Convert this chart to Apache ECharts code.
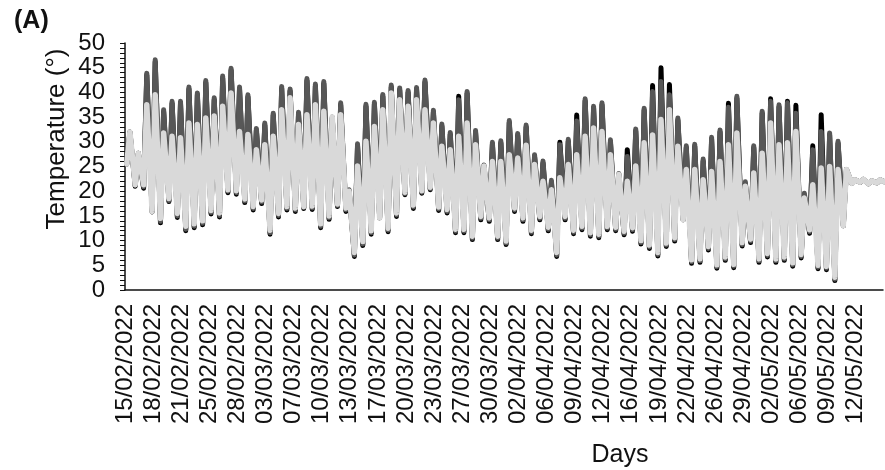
<!DOCTYPE html>
<html>
<head>
<meta charset="utf-8">
<script src="https://cdn.jsdelivr.net/npm/echarts@6/dist/echarts.min.js"></script>
<style>
html, body { margin: 0; padding: 0; background: #fff; }
#main { width: 885px; height: 470px; }
</style>
</head>
<body>
<div id="main"></div>
<script>
// hourly logger, one low (early morning) and one high (afternoon) per day
var startDate = Date.UTC(2022, 1, 15);
var lowHour = 5, highHour = 14;

var blackMin = [25.5,21.0,20.6,15.8,13.6,17.9,14.7,12.0,12.6,13.2, 15.4,14.8,19.7,19.4,17.7,16.2,17.5,11.3,14.8,16.2,
    15.9,16.5,16.3,12.6,14.3,16.9,15.9,6.8,9.0,11.3, 14.6,11.8,14.9,19.3,16.5,19.6,20.3,16.1,15.6,11.6,
    11.6,10.2,14.2,13.9,10.2,9.2,15.9,13.9,11.4,14.2, 12.0,6.8,14.2,11.4,12.2,10.9,10.6,12.2,12.0,11.2,
    11.9,9.3,8.4,6.9,8.8,9.9,14.2,5.4,5.6,8.1, 4.4,6.0,4.5,8.9,9.6,5.6,6.7,5.6,6.0,4.8,
    6.5,11.5,4.3,4.1,1.9,13.0,21.6,21.8,21.5,21.7, 21.8];
var darkMin = [25.5,21.2,20.9,15.9,13.9,18.1,15.0,12.3,12.9,13.5, 15.7,15.1,20.0,19.7,18.0,16.5,17.8,11.6,15.1,16.5,
    16.2,16.7,16.6,12.9,14.6,17.1,16.2,7.1,9.3,11.6, 14.6,12.1,15.2,19.5,16.8,19.8,20.5,16.4,15.9,11.9,
    11.9,10.5,14.5,14.2,10.5,9.5,16.2,14.2,11.7,14.5, 12.3,7.1,14.5,11.7,12.5,11.2,10.9,12.5,12.3,11.5,
    12.2,9.6,8.7,7.2,9.1,10.2,14.2,5.7,5.9,8.4, 4.7,6.3,4.8,9.2,9.9,5.9,7.0,5.9,6.3,5.1,
    6.8,11.8,4.6,4.4,2.2,13.0,21.6,21.8,21.5,21.7, 21.8];
var lightMin = [25.5,21.3,21.3,15.9,14.5,18.5,15.5,12.9,13.4,14.0, 16.1,15.6,20.3,20.1,18.4,16.9,18.2,12.1,15.5,16.9,
    16.6,16.9,17.0,13.4,15.0,17.4,16.6,7.6,9.8,12.0, 14.6,12.5,15.6,19.8,17.2,20.1,20.8,16.8,16.3,12.3,
    12.3,10.9,14.9,14.6,10.9,9.9,16.6,14.6,12.1,14.9, 12.7,7.6,14.9,12.1,12.9,11.6,11.3,12.9,12.7,11.9,
    12.6,10.0,9.1,7.6,9.5,10.6,14.2,6.1,6.3,8.8, 5.1,6.7,5.2,9.6,10.3,6.3,7.4,6.3,6.7,5.5,
    7.2,12.2,5.0,4.8,2.6,13.0,21.6,21.8,21.5,21.7, 21.8];

var blackMax = [32.0,27.7,43.5,46.2,36.1,37.8,37.8,40.7,39.5,42.0, 38.5,42.9,44.5,40.7,39.1,32.3,33.4,35.4,40.8,40.3,
    35.6,42.4,41.3,41.8,34.8,37.5,20.1,29.2,37.2,37.6, 39.2,41.1,40.5,40.0,40.6,42.1,36.0,33.2,31.5,39.2,
    39.8,31.9,25.1,29.5,29.8,33.9,31.3,33.0,27.0,25.7, 21.8,29.9,30.1,35.4,38.3,36.8,37.5,30.0,23.4,28.4,
    32.2,36.4,41.4,45.0,41.6,34.4,28.8,29.1,26.1,30.5, 32.0,37.8,38.8,21.5,28.8,35.8,38.7,37.1,38.2,37.4,
    19.2,29.2,35.5,31.4,29.7,24.4,22.3,22.4,22.1,22.3, 22.2];
var darkMax = [32.0,27.7,43.9,46.6,36.5,38.2,38.2,41.1,39.9,42.4, 38.9,43.3,44.9,41.1,39.5,32.7,33.8,35.8,41.2,40.7,
    36.0,42.8,41.7,42.2,35.0,37.9,20.3,29.6,37.6,38.0, 39.6,41.5,40.9,40.4,41.0,42.5,36.4,33.6,31.9,38.5,
    40.2,32.3,25.3,29.9,30.2,34.3,31.7,33.4,27.4,26.1, 22.2,29.4,30.5,34.2,38.7,37.2,37.9,30.4,23.6,27.0,
    32.6,36.8,40.2,42.2,39.5,34.8,29.2,29.5,26.5,30.9, 32.4,37.0,39.2,21.9,29.2,36.2,38.2,37.5,37.9,35.8,
    19.6,28.4,32.1,31.8,30.1,24.4,22.3,22.4,22.1,22.3, 22.2];
var lightMax = [32.0,27.7,37.5,39.5,31.8,31.1,30.8,33.8,33.5,34.8, 35.2,37.2,39.9,32.1,31.5,28.4,29.4,31.1,36.5,38.9,
    33.5,35.5,37.5,36.2,35.0,35.5,20.0,25.1,30.1,33.1, 36.5,39.9,38.5,37.2,38.5,36.5,33.8,29.1,28.4,31.1,
    33.8,29.4,25.1,26.0,26.0,27.4,26.7,29.3,25.4,22.0, 20.3,22.7,25.4,27.4,31.1,32.8,32.1,27.4,23.4,22.0,
    25.1,29.8,31.4,34.5,36.5,29.1,24.4,24.4,22.3,24.0, 26.0,29.4,31.8,21.0,23.7,27.7,33.8,29.4,29.8,32.1,
    18.6,21.3,24.7,25.0,24.4,24.4,22.3,22.4,22.1,22.3, 22.2];

function addzero(v) {
    if (v < 10) return '0' + v;
    return v.toString();
}

function hourLabel(h) {
    var d = new Date(startDate + h * 3600 * 1000);
    return addzero(d.getUTCDate()) + '/' + addzero(d.getUTCMonth() + 1) + '/' + d.getUTCFullYear();
}

function dayPoints(mins, maxs) {
    var pts = [];
    for (var i = 0; i < mins.length; i++) {
        pts.push([i * 24 + lowHour, mins[i]]);
        pts.push([i * 24 + highHour, maxs[i]]);
    }
    return pts;
}

function lineSeries(data, color, width) {
    return {
        type: 'line',
        data: data,
        showSymbol: false,
        symbol: 'none',
        clip: true,
        lineStyle: { color: color, width: width, cap: 'round', join: 'round' }
    };
}

var font = '"Liberation Sans", Arial, sans-serif';
var myChart = echarts.init(document.getElementById('main'), null, { renderer: 'canvas' });

option = {
    animation: false,
    backgroundColor: '#fff',
    title: {
        text: '(A)',
        left: 9,
        top: 4,
        textStyle: { fontFamily: font, fontWeight: 'bold', fontSize: 25, color: '#111' }
    },
    grid: { left: 125, right: 2, top: 43, bottom: 180, containLabel: false },
    xAxis: {
        type: 'value',
        min: 0,
        max: 2158,
        interval: 80,
        axisLine: { lineStyle: { color: '#111', width: 1.5 } },
        axisTick: { show: false },
        splitLine: { show: false },
        axisLabel: {
            rotate: 90,
            margin: 14,
            showMaxLabel: false,
            fontFamily: font,
            fontSize: 24,
            color: '#111',
            formatter: hourLabel
        }
    },
    yAxis: {
        type: 'value',
        min: 0,
        max: 50,
        interval: 5,
        axisLine: { show: true, lineStyle: { color: '#111', width: 1.5 } },
        axisTick: { show: true, length: 5, lineStyle: { color: '#111' } },
        minorTick: { show: true, splitNumber: 5, length: 5, lineStyle: { color: '#111' } },
        splitLine: { show: false },
        axisLabel: { margin: 20, fontFamily: font, fontSize: 24, color: '#111' }
    },
    graphic: [
        {
            type: 'text',
            x: 57,
            y: 139,
            rotation: Math.PI / 2,
            style: { text: 'Temperature (°)', font: '26px ' + font, fill: '#111', align: 'center', verticalAlign: 'middle' }
        },
        {
            type: 'text',
            x: 620,
            y: 455,
            style: { text: 'Days', font: '25px ' + font, fill: '#111', align: 'center', verticalAlign: 'middle' }
        }
    ],
    series: [
        lineSeries(dayPoints(blackMin, blackMax), '#000000', 5),
        lineSeries(dayPoints(darkMin, darkMax), '#575757', 5),
        lineSeries(dayPoints(lightMin, lightMax), '#d9d9d9', 5.5)
    ]
};

myChart.setOption(option, true);
</script>
</body>
</html>
